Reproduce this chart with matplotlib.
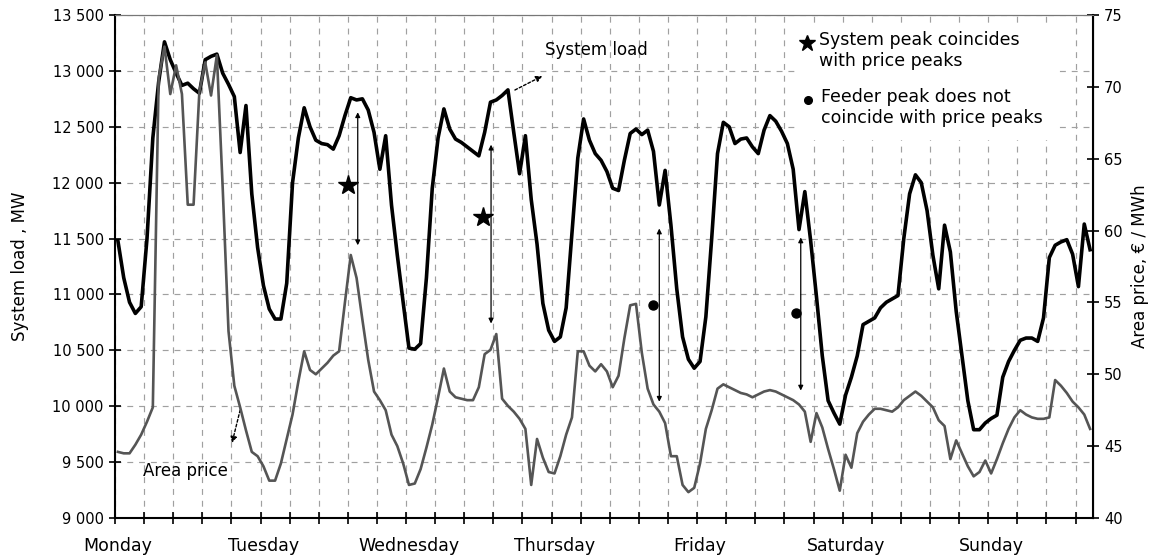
import numpy as np
import matplotlib
matplotlib.use("Agg")
import matplotlib.pyplot as plt
from matplotlib.ticker import FuncFormatter
from matplotlib.patches import Rectangle

# hourly values over one week (168 h)
days = ["Monday", "Tuesday", "Wednesday", "Thursday", "Friday", "Saturday", "Sunday"]

system_load = [
    11480, 11150, 10930, 10830, 10890, 11500, 12400, 12900, 13260, 13100,
    12980, 12870, 12890, 12840, 12800, 13100, 13130, 13150, 12980, 12880,
    12770, 12270, 12690, 11900, 11420, 11080, 10870, 10780, 10780, 11100,
    12000, 12400, 12670, 12500, 12380, 12350, 12340, 12300, 12420, 12600,
    12760, 12740, 12750, 12650, 12450, 12120, 12420, 11800, 11350, 10930,
    10520, 10510, 10560, 11150, 11950, 12400, 12660, 12480, 12390, 12360,
    12320, 12280, 12240, 12450, 12720, 12740, 12780, 12830, 12450, 12080,
    12420, 11850, 11450, 10920, 10680, 10580, 10620, 10880, 11550, 12220,
    12570, 12380, 12260, 12200, 12100, 11950, 11930, 12200, 12440, 12480,
    12430, 12470, 12280, 11800, 12110, 11620, 11050, 10620, 10420, 10340,
    10400, 10800, 11500, 12260, 12540, 12500, 12350, 12390, 12400, 12320,
    12260, 12470, 12600, 12550, 12460, 12350, 12120, 11580, 11920, 11480,
    10980, 10450, 10050, 9940, 9840, 10100, 10260, 10450, 10730, 10760,
    10790, 10880, 10930, 10960, 10990, 11500, 11900, 12070, 12000, 11750,
    11350, 11050, 11620, 11380, 10850, 10450, 10050, 9790, 9790, 9850,
    9890, 9920, 10260, 10400, 10500, 10590, 10610, 10610, 10580, 10790,
    11330, 11440, 11470, 11490, 11360, 11070, 11630, 11400,
]

area_price = [
    44.6, 44.5, 44.5, 45.1, 45.8, 46.7, 47.7, 70.6, 72.8, 69.5,
    71.5, 69.5, 61.8, 61.8, 69.7, 71.7, 69.4, 72.2, 63.0, 53.0,
    49.2, 47.7, 46.1, 44.6, 44.3, 43.6, 42.6, 42.6, 43.8, 45.5,
    47.2, 49.5, 51.6, 50.3, 50.0, 50.4, 50.8, 51.3, 51.6, 55.0,
    58.3, 56.7, 53.8, 51.0, 48.8, 48.2, 47.5, 45.8, 45.0, 43.8,
    42.3, 42.4, 43.4, 44.9, 46.5, 48.4, 50.4, 48.8, 48.4, 48.3,
    48.2, 48.2, 49.1, 51.4, 51.7, 52.8, 48.3, 47.8, 47.4, 46.9,
    46.2, 42.3, 45.5, 44.2, 43.2, 43.1, 44.3, 45.8, 47.0, 51.6,
    51.6, 50.6, 50.2, 50.7, 50.2, 49.1, 49.9, 52.5, 54.8, 54.9,
    51.5, 49.0, 47.9, 47.4, 46.6, 44.3, 44.3, 42.3, 41.8, 42.1,
    43.8, 46.2, 47.5, 49.0, 49.3, 49.1, 48.9, 48.7, 48.6, 48.4,
    48.6, 48.8, 48.9, 48.8, 48.6, 48.4, 48.2, 47.9, 47.4, 45.3,
    47.3, 46.3, 44.8, 43.4, 41.9, 44.4, 43.5, 45.9, 46.7, 47.2,
    47.6, 47.6, 47.5, 47.4, 47.7, 48.2, 48.5, 48.8, 48.5, 48.1,
    47.7, 46.8, 46.4, 44.1, 45.4, 44.5, 43.6, 42.9, 43.2, 44.0,
    43.1, 44.1, 45.2, 46.2, 47.0, 47.5, 47.2, 47.0, 46.9, 46.9,
    47.0, 49.6, 49.2, 48.7, 48.1, 47.7, 47.2, 46.2,
]

# markers: system peak coinciding (stars) / feeder peak not coinciding (dots)
star_hours = [40.0, 63.2]
star_loads = [11980, 11690]
dot_hours = [92.4, 117.0]
dot_loads = [10905, 10834]
# double headed arrows: hour, top, bottom (MW)
gap_hours = [41.7, 64.6, 93.5, 117.8]
gap_tops = [12630, 12340, 11590, 11510]
gap_bottoms = [11440, 10740, 10040, 10140]

hours = np.arange(len(system_load)) + 0.5

plt.rcParams["font.family"] = ["DejaVu Sans"]

fig = plt.figure(figsize=(11.51, 5.60), dpi=100)
ax = fig.add_axes([0.0999, 0.075, 0.8497, 0.8982])
ax2 = ax.twinx()

ax.plot(hours, system_load, color="black", lw=2.6, zorder=3)
ax2.plot(hours, area_price, color="#555555", lw=1.9, zorder=2)

ax.set_xlim(0, 168)
ax.set_ylim(9000, 13500)
ax2.set_ylim(40, 75)

ax.set_yticks(np.arange(9000, 13501, 500))
ax.yaxis.set_major_formatter(FuncFormatter(lambda v, p: f"{int(v):,}".replace(",", " ")))
ax2.set_yticks(np.arange(40, 76, 5))

ax.set_xticks(np.arange(0, 168, 5))
ax.set_xticklabels([])
ax.set_xticks([25 * k + 0.5 for k in range(len(days))], minor=True)
ax.set_xticklabels(days, minor=True)

ax.tick_params(axis="x", which="major", direction="inout", length=9, width=1.2)
ax.tick_params(axis="x", which="minor", length=0, pad=14, labelsize=12.5)
ax.tick_params(axis="y", direction="inout", length=8, width=1.2, pad=4, labelsize=10.5)
ax2.tick_params(axis="y", direction="inout", length=8, width=1.2, pad=4, labelsize=10.5)

ax.grid(True, which="major", color="#a0a0a0", lw=0.85, ls=(0, (5, 5)))
ax.set_axisbelow(True)

for side in ["left", "bottom"]:
    ax.spines[side].set_linewidth(1.5)
ax2.spines["right"].set_linewidth(1.5)
ax.spines["top"].set_color("#777777")
ax2.spines["top"].set_color("#777777")
ax2.spines["left"].set_visible(False)
ax2.spines["bottom"].set_visible(False)

ax.set_ylabel("System load , MW", fontsize=12, labelpad=17)
ax2.set_ylabel("Area price, \u20ac / MWh", fontsize=12, rotation=90, labelpad=6)

# stars, dots and arrows
ax.plot(star_hours, star_loads, ls="none", marker="*", ms=15, color="black", zorder=5)
ax.plot(dot_hours, dot_loads, ls="none", marker="o", ms=6.5, color="black", zorder=5)
for h, top, bottom in zip(gap_hours, gap_tops, gap_bottoms):
    ax.annotate("", xy=(h, top), xytext=(h, bottom),
                arrowprops=dict(arrowstyle="<|-|>", lw=0.9, color="black",
                                mutation_scale=7, shrinkA=0, shrinkB=0), zorder=5)

ax.text(73.9, 13190, "System load", fontsize=12, ha="left", va="center")
ax.annotate("", xy=(73.4, 12954), xytext=(68.7, 12829),
            arrowprops=dict(arrowstyle="-|>", lw=1, ls=(0, (2, 1.5)), color="black",
                            mutation_scale=9, shrinkA=0, shrinkB=0))
ax.text(4.8, 9420, "Area price", fontsize=12, ha="left", va="center")
ax.annotate("", xy=(20.1, 9671), xytext=(21.5, 9966),
            arrowprops=dict(arrowstyle="-|>", lw=1, ls=(0, (2, 1.5)), color="black",
                            mutation_scale=9, shrinkA=0, shrinkB=0))

# key in the upper right corner
ax.add_patch(Rectangle((117.7, 12382), 43.8, 1000, facecolor="white", edgecolor="none", zorder=1))
ax.plot([118.9], [13249], marker="*", ms=12, color="black", ls="none", zorder=5)
ax.text(120.9, 13249 + 110, "System peak coincides\nwith price peaks", fontsize=12.5,
        ha="left", va="top", linespacing=1.25, zorder=6)
ax.plot([119.1], [12739], marker="o", ms=5.5, color="black", ls="none", zorder=5)
ax.text(121.3, 12739 + 110, "Feeder peak does not\ncoincide with price peaks", fontsize=12.5,
        ha="left", va="top", linespacing=1.25, zorder=6)

fig.savefig("out.png", dpi=100)
